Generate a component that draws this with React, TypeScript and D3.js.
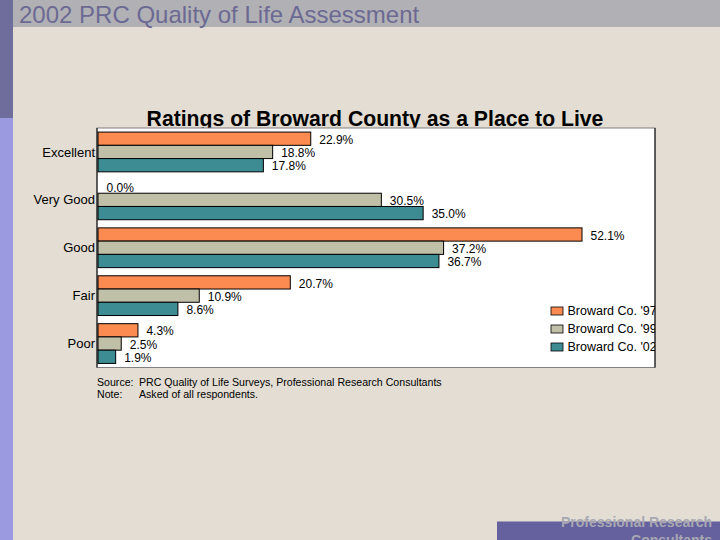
import React from "react";
import * as d3 from "d3";

const categories = ["Excellent", "Very Good", "Good", "Fair", "Poor"];
const seriesNames = ["Broward Co. '97", "Broward Co. '99", "Broward Co. '02"];
const values97 = [22.9, 0.0, 52.1, 20.7, 4.3];
const values99 = [18.8, 30.5, 37.2, 10.9, 2.5];
const values02 = [17.8, 35.0, 36.7, 8.6, 1.9];
const seriesValues = [values97, values99, values02];
const colors = ["#fb8b50", "#c0bfa8", "#3d8c93"];

const W = 720;
const H = 540;
const plot = { left: 97, top: 128, right: 655, bottom: 367.5 };

export default function App() {
  const x = d3.scaleLinear().domain([0, 60]).range([plot.left + 1, plot.left + 1 + 60 * 9.29]);
  const y = d3
    .scaleBand<string>()
    .domain(categories)
    .range([plot.top, plot.bottom])
    .paddingInner(0.17)
    .paddingOuter(0.085);
  const inner = d3
    .scaleBand<number>()
    .domain([0, 1, 2])
    .range([0, y.bandwidth()]);
  const fmt = (v: number) => v.toFixed(1) + "%";
  const font = "Arial, 'Liberation Sans', Helvetica, sans-serif";

  return (
    <svg
      width={W}
      height={H}
      style={{ position: "absolute", left: 0, top: 0, fontFamily: font }}
    >
      <defs>
        <clipPath id="plotClip">
          <rect x={plot.left} y={plot.top} width={plot.right - plot.left} height={plot.bottom - plot.top} />
        </clipPath>
      </defs>
      <rect x={0} y={0} width={W} height={H} fill="#e3ddd3" />
      <rect x={0} y={0} width={13} height={118} fill="#6f6d9c" />
      <rect x={0} y={118} width={13} height={H - 118} fill="#9b99e0" />
      <rect x={13} y={0} width={W - 13} height={27} fill="#b1b0b5" />
      <text x={19} y={22.5} fontSize={24} fill="#6c6a93">
        2002 PRC Quality of Life Assessment
      </text>

      <text x={375} y={126} fontSize={21.2} fontWeight="bold" textAnchor="middle" fill="#000">
        Ratings of Broward County as a Place to Live
      </text>

      <rect
        x={plot.left}
        y={plot.top}
        width={plot.right - plot.left}
        height={plot.bottom - plot.top}
        fill="#ffffff"
        stroke="#808080"
        strokeWidth={1}
      />
      <line x1={plot.left} x2={plot.left} y1={plot.top} y2={plot.bottom} stroke="#000" />
      <line x1={plot.right} x2={plot.right} y1={plot.top} y2={plot.bottom} stroke="#000" />

      {categories.map((c, ci) => (
        <g key={c}>
          <text
            x={95}
            y={(y(c) ?? 0) + y.bandwidth() / 2}
            dy="0.35em"
            textAnchor="end"
            fontSize={13}
            fill="#000"
          >
            {c}
          </text>
          {seriesValues.map((vals, si) => {
            const v = vals[ci];
            const by = (y(c) ?? 0) + (inner(si) ?? 0);
            const bh = inner.bandwidth();
            return (
              <g key={si}>
                {v > 0 && (
                  <rect
                    x={x(0)}
                    y={by}
                    width={x(v) - x(0)}
                    height={bh}
                    fill={colors[si]}
                    stroke="#000"
                    strokeWidth={1}
                  />
                )}
                <text
                  x={x(v) + 8.5}
                  y={by + bh / 2 + 1}
                  dy="0.35em"
                  fontSize={12}
                  fill="#000"
                >
                  {fmt(v)}
                </text>
              </g>
            );
          })}
        </g>
      ))}

      <g clipPath="url(#plotClip)">
        {seriesNames.map((n, i) => (
          <g key={n} transform={`translate(551, ${307 + i * 18})`}>
            <rect x={0} y={0} width={12} height={8} fill={colors[i]} stroke="#000" strokeWidth={0.8} />
            <text x={16.5} y={4} dy="0.35em" fontSize={12.5} fill="#000">
              {n}
            </text>
          </g>
        ))}
      </g>

      <text x={97} y={386} fontSize={10.6} fill="#000">
        Source:
      </text>
      <text x={139} y={386} fontSize={10.6} fill="#000">
        PRC Quality of Life Surveys, Professional Research Consultants
      </text>
      <text x={97} y={397.5} fontSize={10.6} fill="#000">
        Note:
      </text>
      <text x={139} y={397.5} fontSize={10.6} fill="#000">
        Asked of all respondents.
      </text>

      <rect x={497} y={521.5} width={W - 497} height={H - 521.5} fill="#65619e" />
      <text x={712} y={527} fontSize={14} fontWeight="bold" textAnchor="end" fill="#a9a8b2">
        Professional Research
      </text>
      <text x={712} y={545} fontSize={14} fontWeight="bold" textAnchor="end" fill="#a9a8b2">
        Consultants
      </text>
    </svg>
  );
}
